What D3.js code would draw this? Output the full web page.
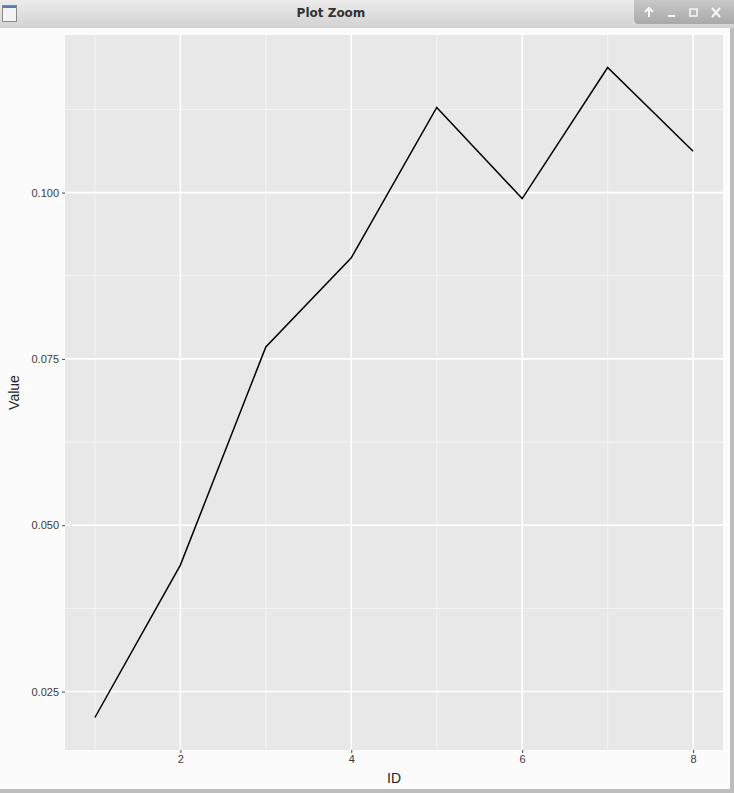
<!DOCTYPE html>
<html>
<head>
<meta charset="utf-8">
<script src="https://cdn.jsdelivr.net/npm/d3@7"></script>
<style>
  body { margin: 0; background: #fff; }
  svg { display: block; }
</style>
</head>
<body>
<div id="chart"></div>
<script>
// data
var ids = [1, 2, 3, 4, 5, 6, 7, 8];
var values = [0.0211, 0.0440, 0.0768, 0.0902, 0.1128, 0.0991, 0.1188, 0.1062];
var yTicks = [0.025, 0.050, 0.075, 0.100];
var xTicks = [2, 4, 6, 8];

var W = 734, H = 793;
var svg = d3.select("#chart").append("svg")
  .attr("width", W)
  .attr("height", H);

// window frame
var defs = svg.append("defs");
var grad = defs.append("linearGradient").attr("id", "bar")
  .attr("x1", 0).attr("y1", 0).attr("x2", 0).attr("y2", 1);
grad.append("stop").attr("offset", "0%").attr("stop-color", "#ececec");
grad.append("stop").attr("offset", "100%").attr("stop-color", "#d2d2d2");
var grad2 = defs.append("linearGradient").attr("id", "ctl")
  .attr("x1", 0).attr("y1", 0).attr("x2", 0).attr("y2", 1);
grad2.append("stop").attr("offset", "0%").attr("stop-color", "#c8c8c8");
grad2.append("stop").attr("offset", "100%").attr("stop-color", "#a9a9a9");

svg.append("rect").attr("x", 0).attr("y", 0).attr("width", W).attr("height", H)
  .attr("fill", "#fafbfa");
svg.append("rect").attr("x", 0).attr("y", 0).attr("width", W).attr("height", 28)
  .attr("fill", "url(#bar)");
svg.append("path")
  .attr("d", "M634,0 L734,0 L734,24 L638,24 Q634,24 634,18 Z")
  .attr("fill", "url(#ctl)");
svg.append("rect").attr("x", 2.5).attr("y", 5.5).attr("width", 14).attr("height", 16)
  .attr("fill", "#f4f4f4").attr("stroke", "#8a8a8a");
svg.append("rect").attr("x", 3).attr("y", 6).attr("width", 13).attr("height", 2)
  .attr("fill", "#5a7db0");
svg.append("text").attr("x", 331).attr("y", 17)
  .attr("text-anchor", "middle")
  .style("font-family", "'DejaVu Sans', sans-serif")
  .style("font-size", "12px").style("font-weight", "bold")
  .attr("fill", "#333").text("Plot Zoom");
// window buttons
var btn = svg.append("g").attr("fill", "none").attr("stroke", "#f8f8f8").attr("stroke-width", 2);
btn.append("path").attr("d", "M649,17 L649,9 M645,12 L649,8 L653,12");
btn.append("path").attr("d", "M668,16 L675,16");
btn.append("rect").attr("x", 690).attr("y", 9).attr("width", 7).attr("height", 7)
  .attr("stroke-width", 1.5);
btn.append("path").attr("d", "M712,8 L720,17 M720,8 L712,17");
svg.append("rect").attr("x", 0).attr("y", 789).attr("width", W).attr("height", 4).attr("fill", "#bdbdbd");
svg.append("rect").attr("x", 730).attr("y", 28).attr("width", 4).attr("height", H - 28).attr("fill", "#bdbdbd");

// plot panel
var panel = {left: 65, right: 723, top: 35, bottom: 750};

var xPad = (d3.max(ids) - d3.min(ids)) * 0.05;
var x = d3.scaleLinear()
  .domain([d3.min(ids) - xPad, d3.max(ids) + xPad])
  .range([panel.left, panel.right]);
var yPad = (d3.max(values) - d3.min(values)) * 0.05;
var y = d3.scaleLinear()
  .domain([d3.min(values) - yPad, d3.max(values) + yPad])
  .range([panel.bottom, panel.top]);

svg.append("rect")
  .attr("x", panel.left).attr("y", panel.top)
  .attr("width", panel.right - panel.left)
  .attr("height", panel.bottom - panel.top)
  .attr("fill", "#e8e8e8");

// minor grid
var xMinor = [1, 3, 5, 7];
var yMinor = [0.0375, 0.0625, 0.0875, 0.1125];
svg.selectAll(".xminor").data(xMinor).enter().append("line")
  .attr("x1", d => x(d)).attr("x2", d => x(d))
  .attr("y1", panel.top).attr("y2", panel.bottom)
  .attr("stroke", "#f4f4f4").attr("stroke-width", 1);
svg.selectAll(".yminor").data(yMinor).enter().append("line")
  .attr("y1", d => y(d)).attr("y2", d => y(d))
  .attr("x1", panel.left).attr("x2", panel.right)
  .attr("stroke", "#f4f4f4").attr("stroke-width", 1);
// major grid
svg.selectAll(".xmajor").data(xTicks).enter().append("line")
  .attr("x1", d => x(d)).attr("x2", d => x(d))
  .attr("y1", panel.top).attr("y2", panel.bottom)
  .attr("stroke", "#fff").attr("stroke-width", 1.6);
svg.selectAll(".ymajor").data(yTicks).enter().append("line")
  .attr("y1", d => y(d)).attr("y2", d => y(d))
  .attr("x1", panel.left).attr("x2", panel.right)
  .attr("stroke", "#fff").attr("stroke-width", 1.6);

// line
var line = d3.line()
  .x((d, i) => x(ids[i]))
  .y(d => y(d));
svg.append("path")
  .datum(values)
  .attr("d", line)
  .attr("fill", "none")
  .attr("stroke", "#000")
  .attr("stroke-width", 1.5);

// axes
var xAxis = svg.append("g")
  .attr("transform", "translate(0," + panel.bottom + ")")
  .call(d3.axisBottom(x).tickValues(xTicks).tickSize(3).tickPadding(2).tickFormat(d3.format("d")));
var yAxis = svg.append("g")
  .attr("transform", "translate(" + panel.left + ",0)")
  .call(d3.axisLeft(y).tickValues(yTicks).tickSize(3).tickPadding(3).tickFormat(d3.format(".3f")));
[xAxis, yAxis].forEach(function(a) {
  a.select(".domain").remove();
  a.selectAll(".tick line").attr("stroke", "#444");
  a.selectAll(".tick text")
    .attr("fill", "#3a3a3a")
    .style("font-family", "'Liberation Sans', Arial, sans-serif")
    .style("font-size", "11px");
});

svg.append("text")
  .attr("x", (panel.left + panel.right) / 2).attr("y", 783)
  .attr("text-anchor", "middle")
  .style("font-family", "'Liberation Sans', Arial, sans-serif")
  .style("font-size", "14px").attr("fill", "#222")
  .text("ID");
svg.append("text")
  .attr("transform", "translate(19," + (panel.top + panel.bottom) / 2 + ") rotate(-90)")
  .attr("text-anchor", "middle")
  .style("font-family", "'Liberation Sans', Arial, sans-serif")
  .style("font-size", "14px").attr("fill", "#222")
  .text("Value");
</script>
</body>
</html>
